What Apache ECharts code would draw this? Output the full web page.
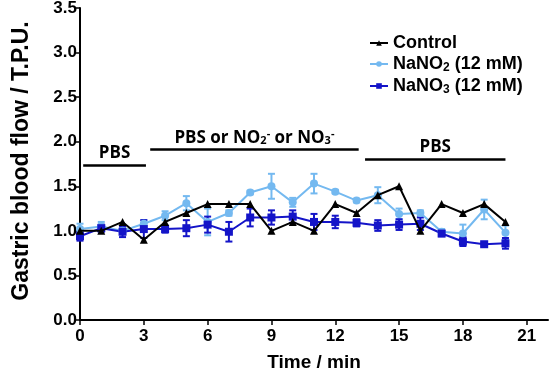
<!DOCTYPE html>
<html><head><meta charset="utf-8">
<script src="https://cdn.jsdelivr.net/npm/echarts@6/dist/echarts.min.js"></script>
<style>html,body{margin:0;padding:0;background:#fff}#c{width:550px;height:372px}</style>
</head><body><div id="c"></div>
<script>
const time = [0,1,2,3,4,5,6,7,8,9,10,11,12,13,14,15,16,17,18,19,20];
const control = [1.0,1.0,1.1,0.9,1.1,1.2,1.3,1.3,1.3,1.0,1.1,1.0,1.3,1.2,1.4,1.5,1.0,1.3,1.2,1.3,1.1];
const nitrite = [1.02,1.05,1.0,1.08,1.17,1.31,1.1,1.2,1.43,1.5,1.32,1.53,1.44,1.34,1.4,1.19,1.2,0.99,0.97,1.24,0.98];
const nitriteErr = [0.06,0.05,0.03,0.04,0.05,0.08,0.15,0.03,0.02,0.14,0.05,0.11,0.02,0.02,0.09,0.06,0.03,0.03,0.1,0.11,0.08];
const nitrate = [0.94,1.03,0.99,1.02,1.02,1.03,1.07,0.99,1.15,1.15,1.16,1.10,1.10,1.09,1.06,1.07,1.08,0.97,0.88,0.85,0.86];
const nitrateErr = [0.05,0.04,0.06,0.1,0.04,0.09,0.09,0.11,0.1,0.08,0.07,0.09,0.07,0.04,0.06,0.06,0.07,0.03,0.05,0.02,0.06];
const seriesNames = ['Control','NaNO2','NaNO3'];
const legendLabels = {Control:'{a|Control}', NaNO2:'{a|NaNO}{s|2}{a| (12 mM)}', NaNO3:'{a|NaNO}{s|3}{a| (12 mM)}'};
const periods = [
  {from:0.15, to:3.1, y:1.74, text:'{a|PBS}'},
  {from:3.3, to:13.1, y:1.91, text:'{a|PBS or NO}{s|2}{p|-}{a| or NO}{s|3}{p|-}'},
  {from:13.4, to:20.0, y:1.80, text:'{a|PBS}'}
];
const colors = {Control:'#000000', NaNO2:'#74b9f0', NaNO3:'#1414c8'};
const FONT = 'Liberation Sans, Arial, sans-serif';
const AFONT = 'Open Sans, sans-serif';
const rich = {
  a:{fontFamily:AFONT,fontWeight:'bold',fontSize:17,color:'#000',lineHeight:18},
  s:{fontFamily:AFONT,fontWeight:'bold',fontSize:11,color:'#000',verticalAlign:'bottom',lineHeight:12,padding:[6,0,0,0]},
  p:{fontFamily:AFONT,fontWeight:'bold',fontSize:11,color:'#000',verticalAlign:'top',lineHeight:12,padding:[0,0,8,0]}
};
const legRich = {
  a:{fontFamily:FONT,fontWeight:'bold',fontSize:18,color:'#000',lineHeight:20},
  s:{fontFamily:FONT,fontWeight:'bold',fontSize:12,color:'#000',verticalAlign:'bottom',lineHeight:13,padding:[6,0,0,0]}
};
function pairs(ys){return time.map((t,i)=>[t,ys[i]]);}
function errData(ys,es){return time.map((t,i)=>[t,ys[i],es[i]]);}
function errSeries(name,ys,es){
  return {type:'custom',name:name+'_err',data:errData(ys,es),z:3,silent:true,
    renderItem:function(params,api){
      const x=api.value(0),y=api.value(1),e=api.value(2);
      const hi=api.coord([x,y+e]),lo=api.coord([x,y-e]);
      const w=3.5;const st={stroke:colors[name],lineWidth:2};
      return {type:'group',children:[
        {type:'line',shape:{x1:hi[0],y1:hi[1],x2:lo[0],y2:lo[1]},style:st},
        {type:'line',shape:{x1:hi[0]-w,y1:hi[1],x2:hi[0]+w,y2:hi[1]},style:st},
        {type:'line',shape:{x1:lo[0]-w,y1:lo[1],x2:lo[0]+w,y2:lo[1]},style:st}
      ]};
    }};
}
const chart = echarts.init(document.getElementById('c'));
chart.setOption({
  animation:false,
  grid:{left:80,right:2,top:8,bottom:52,outerBoundsMode:'none',containLabel:false},
  legend:{
    data:seriesNames,orient:'vertical',left:364,top:29,itemGap:3,itemWidth:18,itemHeight:7,
    formatter:n=>legendLabels[n],
    textStyle:{rich:legRich}
  },
  xAxis:{type:'value',min:0,max:22,interval:3,
    name:'Time / min',nameLocation:'middle',nameGap:33,
    nameTextStyle:{fontFamily:FONT,fontWeight:'bold',fontSize:19,color:'#000'},
    axisLine:{lineStyle:{color:'#000',width:2}},
    axisTick:{length:5,lineStyle:{color:'#000',width:1.5}},
    axisLabel:{showMaxLabel:false,fontFamily:FONT,fontWeight:'bold',fontSize:17,color:'#000',margin:8},
    splitLine:{show:false}},
  yAxis:{type:'value',min:0,max:3.5,interval:0.5,
    name:'Gastric blood flow / T.P.U.',nameLocation:'middle',nameGap:47,
    nameTextStyle:{fontFamily:FONT,fontWeight:'bold',fontSize:23,color:'#000',padding:[0,0,0,6]},
    axisLine:{show:true,lineStyle:{color:'#000',width:2}},
    axisTick:{show:true,length:5,lineStyle:{color:'#000',width:1.5}},
    axisLabel:{fontFamily:FONT,fontWeight:'bold',fontSize:17,color:'#000',margin:3,formatter:v=>v.toFixed(1)},
    splitLine:{show:false}},
  series:[
    {type:'line',name:'Control',data:pairs(control),symbol:'triangle',symbolSize:8,z:5,
      lineStyle:{color:colors.Control,width:2},itemStyle:{color:colors.Control}},
    errSeries('NaNO2',nitrite,nitriteErr),
    {type:'line',name:'NaNO2',data:pairs(nitrite),symbol:'circle',symbolSize:8,z:4,
      lineStyle:{color:colors.NaNO2,width:2},itemStyle:{color:colors.NaNO2}},
    errSeries('NaNO3',nitrate,nitrateErr),
    {type:'line',name:'NaNO3',data:pairs(nitrate),symbol:'rect',symbolSize:8,z:4,
      lineStyle:{color:colors.NaNO3,width:2},itemStyle:{color:colors.NaNO3}},
    {type:'line',name:'periods',data:[],silent:true,
      markLine:{symbol:'none',silent:true,animation:false,
        lineStyle:{color:'#000',width:2.5,type:'solid'},
        label:{position:'insideMiddleTop',distance:3,rich:rich},
        data:periods.map(p=>[{coord:[p.from,p.y],label:{formatter:p.text}},{coord:[p.to,p.y]}])}}
  ]
});
</script></body></html>
